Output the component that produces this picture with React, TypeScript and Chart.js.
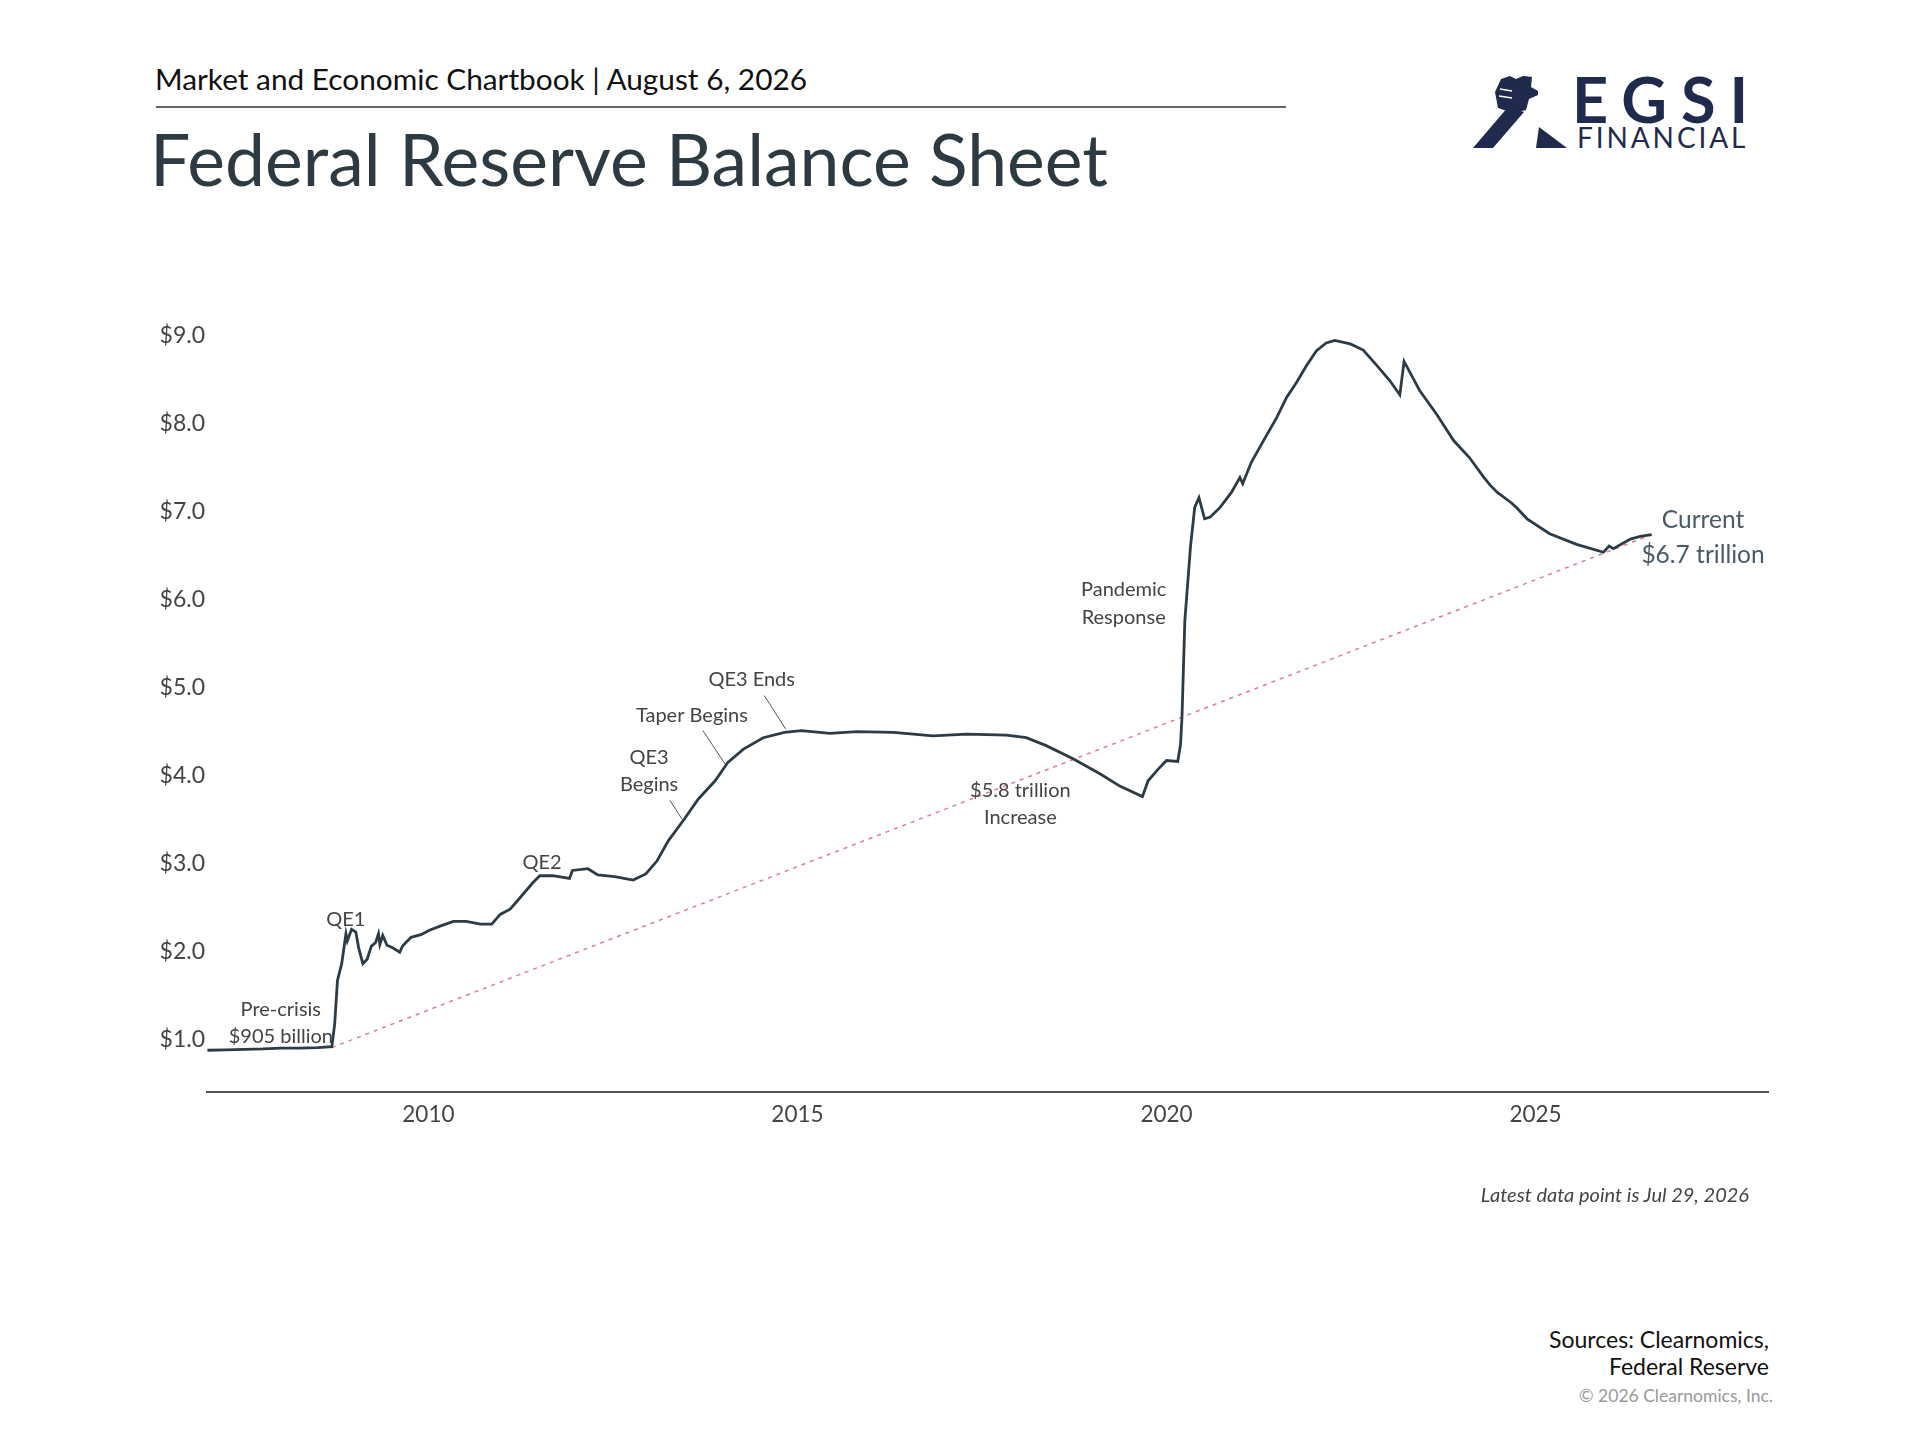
import { useEffect, useRef } from "react";
import { Chart, registerables } from "chart.js";

Chart.register(...registerables);

// Fed balance sheet, trillions of dollars
const dates = [
  "2007-01-03", "2007-04-04", "2007-07-04", "2007-10-03", "2008-01-02", "2008-04-02",
  "2008-07-02", "2008-09-10", "2008-09-24", "2008-10-08", "2008-10-29", "2008-11-19",
  "2008-11-26", "2008-12-17", "2009-01-07", "2009-01-21", "2009-02-11", "2009-03-04",
  "2009-03-25", "2009-04-15", "2009-04-29", "2009-05-06", "2009-05-20", "2009-06-10",
  "2009-07-08", "2009-08-12", "2009-08-26", "2009-10-07", "2009-11-25", "2010-01-06",
  "2010-03-03", "2010-05-05", "2010-07-07", "2010-09-15", "2010-11-10", "2010-12-22",
  "2011-02-09", "2011-03-30", "2011-06-01", "2011-07-06", "2011-09-07", "2011-11-30",
  "2011-12-14", "2012-02-29", "2012-04-18", "2012-07-11", "2012-10-10", "2012-12-12",
  "2013-02-06", "2013-04-03", "2013-06-19", "2013-08-28", "2013-11-20", "2014-01-22",
  "2014-04-09", "2014-07-16", "2014-10-29", "2015-01-21", "2015-06-10", "2015-10-21",
  "2016-04-20", "2016-11-02", "2017-04-19", "2017-11-01", "2018-02-07", "2018-05-16",
  "2018-09-26", "2019-02-06", "2019-05-15", "2019-09-04", "2019-10-02", "2019-11-20",
  "2020-01-01", "2020-02-26", "2020-03-11", "2020-03-18", "2020-04-01", "2020-04-29",
  "2020-05-20", "2020-06-10", "2020-07-08", "2020-08-05", "2020-09-23", "2020-11-18",
  "2020-12-30", "2021-01-13", "2021-02-24", "2021-04-21", "2021-06-30", "2021-08-18",
  "2021-10-06", "2021-11-24", "2022-01-12", "2022-03-02", "2022-04-13", "2022-06-29",
  "2022-09-01", "2022-11-09", "2023-01-11", "2023-03-01", "2023-03-22", "2023-06-07",
  "2023-08-30", "2023-11-22", "2024-02-07", "2024-04-17", "2024-05-22", "2024-06-26",
  "2024-09-04", "2024-10-02", "2024-11-20", "2025-03-12", "2025-07-23", "2025-12-03",
  "2025-12-31", "2026-01-21", "2026-04-15", "2026-06-03", "2026-07-29",
];
const balance = [
  0.875, 0.88, 0.885, 0.89, 0.9, 0.9,
  0.905, 0.915, 1.17, 1.67, 1.86, 2.2,
  2.12, 2.25, 2.22, 2.04, 1.86, 1.91,
  2.06, 2.1, 2.2, 2.08, 2.18, 2.07,
  2.04, 1.99, 2.06, 2.16, 2.19, 2.24,
  2.29, 2.34, 2.34, 2.31, 2.31, 2.42,
  2.48, 2.61, 2.78, 2.86, 2.86, 2.83,
  2.92, 2.94, 2.87, 2.85, 2.81, 2.88,
  3.03, 3.26, 3.5, 3.73, 3.94, 4.15,
  4.3, 4.43, 4.49, 4.51, 4.48, 4.5,
  4.49, 4.45, 4.47, 4.46, 4.43, 4.34,
  4.19, 4.02, 3.88, 3.76, 3.94, 4.07,
  4.17, 4.16, 4.36, 4.67, 5.76, 6.6,
  7.05, 7.16, 6.92, 6.94, 7.05, 7.22,
  7.39, 7.32, 7.56, 7.79, 8.07, 8.3,
  8.47, 8.66, 8.83, 8.92, 8.95, 8.91,
  8.84, 8.66, 8.49, 8.33, 8.71, 8.38,
  8.11, 7.81, 7.62, 7.4, 7.3, 7.22,
  7.1, 7.04, 6.92, 6.75, 6.63, 6.54,
  6.61, 6.58, 6.69, 6.72, 6.74,
];

const trendDates = ["2008-09-10", "2026-07-29"];
const trendValues = [0.905, 6.74];

const yTicks = [1, 2, 3, 4, 5, 6, 7, 8, 9];
const xTicks = [2010, 2015, 2020, 2025];

const notes = [
  { text: "Pre-crisis", x: 2008.0, y: 1.34 },
  { text: "$905 billion", x: 2008.0, y: 1.03 },
  { text: "QE1", x: 2008.88, y: 2.36 },
  { text: "QE2", x: 2011.54, y: 3.01 },
  { text: "QE3", x: 2012.99, y: 4.21 },
  { text: "Begins", x: 2012.99, y: 3.9 },
  { text: "Taper Begins", x: 2013.57, y: 4.68 },
  { text: "QE3 Ends", x: 2014.38, y: 5.09 },
  { text: "$5.8 trillion", x: 2018.02, y: 3.83 },
  { text: "Increase", x: 2018.02, y: 3.52 },
  { text: "Pandemic", x: 2019.42, y: 6.12 },
  { text: "Response", x: 2019.42, y: 5.8 },
];
const currentNote = [
  { text: "Current", x: 2027.27, y: 6.9 },
  { text: "$6.7 trillion", x: 2027.27, y: 6.51 },
];
const leaders = [
  [2013.27, 3.72, 2013.44, 3.5],
  [2013.72, 4.51, 2014.02, 4.13],
  [2014.55, 4.91, 2014.84, 4.53],
];

function toYear(d: string) {
  const [y, m, day] = d.split("-").map(Number);
  const start = Date.UTC(y, 0, 1);
  const end = Date.UTC(y + 1, 0, 1);
  return y + (Date.UTC(y, m - 1, day) - start) / (end - start);
}

const FONT = "Lato, 'Open Sans', sans-serif";

const notesPlugin = {
  id: "notes",
  afterDatasetsDraw(chart: Chart) {
    const { ctx, scales } = chart;
    const xs = scales.x;
    const ys = scales.y;
    ctx.save();
    ctx.strokeStyle = "#555";
    ctx.lineWidth = 1;
    for (const [x1, y1, x2, y2] of leaders) {
      ctx.beginPath();
      ctx.moveTo(xs.getPixelForValue(x1), ys.getPixelForValue(y1));
      ctx.lineTo(xs.getPixelForValue(x2), ys.getPixelForValue(y2));
      ctx.stroke();
    }
    ctx.textAlign = "center";
    ctx.textBaseline = "middle";
    ctx.fillStyle = "#444";
    ctx.font = `20px ${FONT}`;
    for (const n of notes) {
      ctx.fillText(n.text, xs.getPixelForValue(n.x), ys.getPixelForValue(n.y));
    }
    ctx.fillStyle = "#4b5a66";
    ctx.font = `24.5px ${FONT}`;
    for (const n of currentNote) {
      ctx.fillText(n.text, xs.getPixelForValue(n.x), ys.getPixelForValue(n.y));
    }
    ctx.restore();
  },
};

function BalanceChart() {
  const ref = useRef<HTMLCanvasElement>(null);

  useEffect(() => {
    if (!ref.current) return;
    const chart = new Chart(ref.current, {
      type: "line",
      data: {
        datasets: [
          {
            data: dates.map((d, i) => ({ x: toYear(d), y: balance[i] })),
            borderColor: "#2d3b46",
            borderWidth: 2.8,
            pointRadius: 0,
            tension: 0,
          },
          {
            data: trendDates.map((d, i) => ({ x: toYear(d), y: trendValues[i] })),
            borderColor: "#d9808a",
            borderWidth: 1.5,
            borderDash: [4, 5],
            pointRadius: 0,
          },
        ],
      },
      options: {
        animation: false,
        responsive: true,
        maintainAspectRatio: false,
        layout: { padding: { left: 107, right: 152, top: 41, bottom: 49 } },
        plugins: { legend: { display: false }, tooltip: { enabled: false } },
        scales: {
          x: {
            type: "linear",
            min: 2007.0,
            max: 2028.15,
            afterBuildTicks: (s: any) => { s.ticks = xTicks.map((v) => ({ value: v })); },
            afterFit: (s: any) => { s.height = 60; },
            grid: { display: true, drawOnChartArea: false, drawTicks: false },
            border: { display: true, color: "#555", width: 2 },
            ticks: {
              padding: 9,
              color: "#444",
              font: { family: FONT, size: 22.5 },
              callback: (v: any) => String(v),
            },
          },
          y: {
            min: 0.4,
            max: 9.5,
            afterBuildTicks: (s: any) => { s.ticks = yTicks.map((v) => ({ value: v })); },
            afterFit: (s: any) => { s.width = 100; },
            grid: { display: false, drawTicks: false },
            border: { display: false },
            ticks: {
              padding: 2,
              color: "#444",
              font: { family: FONT, size: 23 },
              callback: (v: any) => "$" + Number(v).toFixed(1),
            },
          },
        },
      },
      plugins: [notesPlugin],
    });
    return () => chart.destroy();
  }, []);

  return (
    <div style={{ position: "absolute", left: 0, top: 251, width: 1920, height: 950 }}>
      <canvas ref={ref}></canvas>
    </div>
  );
}

function Logo() {
  const navy = "#1f2a4d";
  return (
    <div style={{ position: "absolute", left: 1468, top: 70, width: 290, height: 84 }}>
      <svg width="104" height="84" style={{ position: "absolute", left: 0, top: 0 }}>
        <path d="M5 78 L25 78 L56 42 L40 37 Z" fill={navy} />
        <path
          d="M30 38 L27 22 L33 9 L42 6 L48 9 L55 6 L64 7 L63 17 L70 21 L70 25 L61 29 L58 40 L45 43 Z"
          fill={navy}
        />
        <path d="M32 19 L44 21 M31 26 L44 28" stroke="#fff" strokeWidth="1.5" />
        <path d="M68 78 L71 57 L99 78 Z" fill={navy} />
      </svg>
      <div style={{
        position: "absolute", left: 104, top: -3, fontFamily: FONT, fontWeight: 700,
        fontSize: 63, lineHeight: 1, letterSpacing: 14, color: navy,
      }}>EGSI</div>
      <div style={{
        position: "absolute", left: 109, top: 53, fontFamily: FONT, fontWeight: 400,
        fontSize: 28, lineHeight: 1, letterSpacing: 2.9, color: navy,
      }}>FINANCIAL</div>
    </div>
  );
}

export default function App() {
  useEffect(() => {
    document.body.style.margin = "0";
  }, []);

  return (
    <div style={{ position: "relative", width: 1920, height: 1440, background: "#fff", fontFamily: FONT }}>
      <div style={{ position: "absolute", left: 155, top: 64, fontSize: 29.8, lineHeight: 1, color: "#111" }}>
        Market and Economic Chartbook | August 6, 2026
      </div>
      <div style={{ position: "absolute", left: 156, top: 106, width: 1130, height: 1.5, background: "#666" }} />
      <div style={{ position: "absolute", left: 150, top: 123, fontSize: 71.5, lineHeight: 1, color: "#2e3a42" }}>
        Federal Reserve Balance Sheet
      </div>
      <Logo />
      <BalanceChart />
      <div style={{
        position: "absolute", right: 1920 - 1749, top: 1184, fontSize: 20, lineHeight: 1,
        fontStyle: "italic", color: "#444",
      }}>
        Latest data point is Jul 29, 2026
      </div>
      <div style={{
        position: "absolute", right: 1920 - 1769, top: 1326, fontSize: 23, lineHeight: "27px",
        textAlign: "right", color: "#111",
      }}>
        Sources: Clearnomics,<br />Federal Reserve
      </div>
      <div style={{
        position: "absolute", right: 1920 - 1773, top: 1387, fontSize: 17.5, lineHeight: 1, color: "#999",
      }}>
        © 2026 Clearnomics, Inc.
      </div>
    </div>
  );
}
